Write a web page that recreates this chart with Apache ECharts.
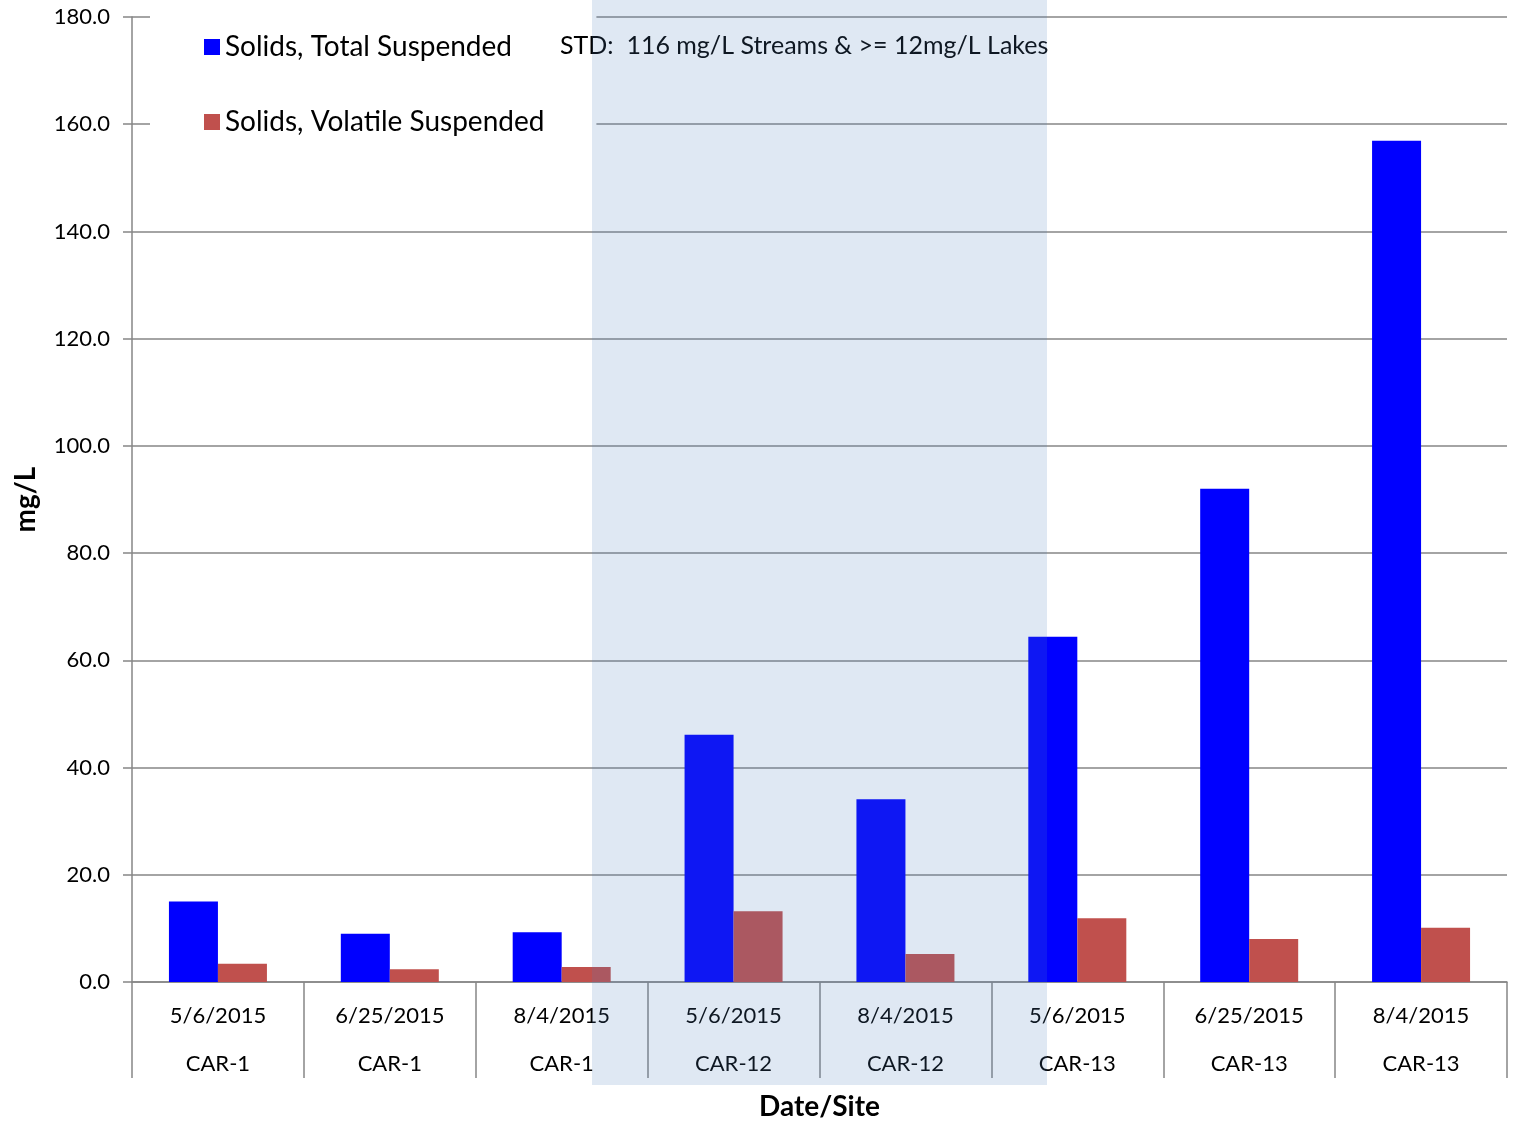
<!DOCTYPE html>
<html>
<head>
<meta charset="utf-8">
<title>Suspended Solids</title>
<script src="https://cdn.jsdelivr.net/npm/echarts@6/dist/echarts.min.js"></script>
<style>
  html, body { margin: 0; padding: 0; background: #fff; }
  #chart { width: 1515px; height: 1121px; }
</style>
</head>
<body>
<div id="chart"></div>
<script>
const dates = ['5/6/2015', '6/25/2015', '8/4/2015', '5/6/2015', '8/4/2015', '5/6/2015', '6/25/2015', '8/4/2015']
const sites = ['CAR-1', 'CAR-1', 'CAR-1', 'CAR-12', 'CAR-12', 'CAR-13', 'CAR-13', 'CAR-13']
const totalSuspended = [15.0, 9.0, 9.3, 46.1, 34.1, 64.4, 92.0, 156.9]
const volatileSuspended = [3.4, 2.4, 2.8, 13.2, 5.2, 11.9, 8.0, 10.1]
const seriesNames = ['Solids, Total Suspended', 'Solids, Volatile Suspended']
const stdNote = 'STD:  116 mg/L Streams & >= 12mg/L Lakes'

const categories = dates.map((d, i) => d + '\n' + sites[i])
const font = 'Lato, "Open Sans", sans-serif'
const gray = '#868686'

const chart = echarts.init(document.getElementById('chart'))
const option = {
  backgroundColor: '#fff',
  animation: false,
  textStyle: { fontFamily: font, color: '#000' },
  grid: {
    left: 132,
    right: 8,
    top: 17,
    bottom: 139,
    containLabel: false,
    outerBoundsMode: 'none'
  },
  legend: {
    orient: 'vertical',
    left: 150,
    top: 4,
    padding: [29, 52, 22, 54],
    backgroundColor: '#fff',
    itemWidth: 16,
    itemHeight: 16,
    itemGap: 47,
    icon: 'rect',
    data: seriesNames,
    textStyle: {
      fontFamily: font,
      fontSize: 28,
      color: '#000'
    }
  },
  xAxis: {
    type: 'category',
    data: categories,
    name: 'Date/Site',
    nameLocation: 'middle',
    nameGap: 107,
    nameTextStyle: {
      fontFamily: font,
      fontSize: 28,
      fontWeight: 'bold',
      color: '#000'
    },
    axisLine: { lineStyle: { color: gray, width: 1.5 } },
    axisTick: {
      show: true,
      alignWithLabel: false,
      interval: 0,
      length: 96,
      lineStyle: { color: gray, width: 1.5 }
    },
    axisLabel: {
      interval: 0,
      margin: 10,
      fontSize: 22,
      lineHeight: 48,
      color: '#000'
    }
  },
  yAxis: {
    type: 'value',
    min: 0,
    max: 180,
    interval: 20,
    name: 'mg/L',
    nameLocation: 'middle',
    nameRotate: 90,
    nameGap: 92,
    nameTextStyle: {
      fontFamily: font,
      fontSize: 28,
      fontWeight: 'bold',
      color: '#000'
    },
    axisLine: { show: true, lineStyle: { color: gray, width: 1.5 } },
    axisTick: { show: true, length: 9, lineStyle: { color: gray, width: 1.5 } },
    axisLabel: {
      margin: 22,
      fontSize: 22,
      color: '#000',
      formatter: v => v.toFixed(1)
    },
    splitLine: { lineStyle: { color: gray, width: 1.5 } }
  },
  series: [
    {
      name: seriesNames[0],
      type: 'bar',
      barWidth: 49,
      barGap: '0%',
      itemStyle: { color: '#0000ff' },
      data: totalSuspended
    },
    {
      name: seriesNames[1],
      type: 'bar',
      barWidth: 49,
      barGap: '0%',
      itemStyle: { color: '#c0504d' },
      data: volatileSuspended
    }
  ],
  graphic: [
    {
      type: 'text',
      left: 560,
      top: 33,
      z: 50,
      style: {
        text: stdNote,
        fontFamily: font,
        fontSize: 25,
        fill: '#000'
      }
    },
    {
      type: 'rect',
      left: 592,
      top: 0,
      z: 100,
      silent: true,
      shape: { width: 455, height: 1085 },
      style: { fill: 'rgba(79, 129, 189, 0.18)' }
    }
  ]
}
chart.setOption(option)
</script>
</body>
</html>
